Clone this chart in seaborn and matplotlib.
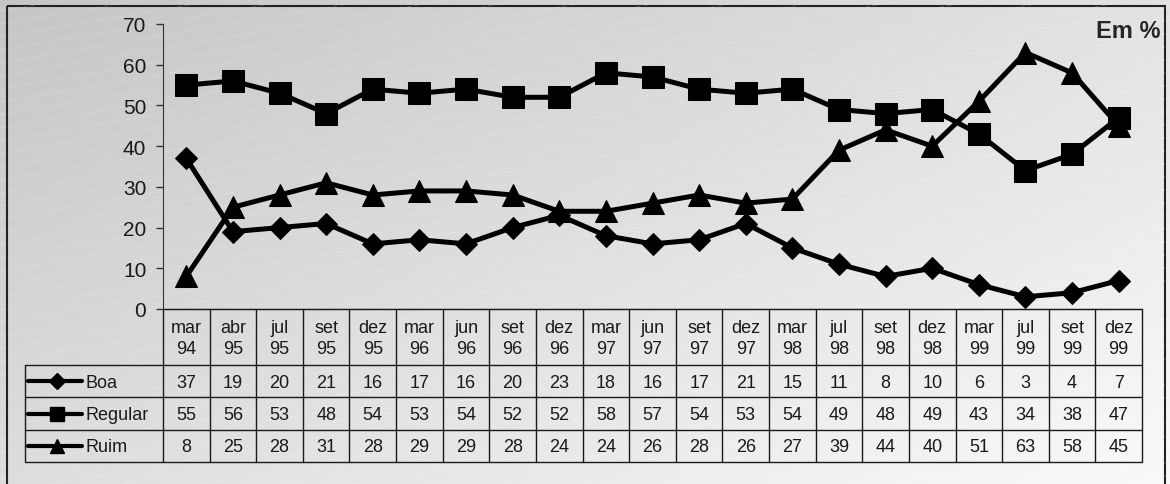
import numpy as np
import pandas as pd
import matplotlib.pyplot as plt
from matplotlib.patches import Rectangle
from matplotlib.lines import Line2D
import seaborn as sns

# dados (em %)
meses = ['mar\n94', 'abr\n95', 'jul\n95', 'set\n95', 'dez\n95', 'mar\n96', 'jun\n96',
         'set\n96', 'dez\n96', 'mar\n97', 'jun\n97', 'set\n97', 'dez\n97', 'mar\n98',
         'jul\n98', 'set\n98', 'dez\n98', 'mar\n99', 'jul\n99', 'set\n99', 'dez\n99']
boa = [37, 19, 20, 21, 16, 17, 16, 20, 23, 18, 16, 17, 21, 15, 11, 8, 10, 6, 3, 4, 7]
regular = [55, 56, 53, 48, 54, 53, 54, 52, 52, 58, 57, 54, 53, 54, 49, 48, 49, 43, 34, 38, 47]
ruim = [8, 25, 28, 31, 28, 29, 29, 28, 24, 24, 26, 28, 26, 27, 39, 44, 40, 51, 63, 58, 45]
series = ['Boa', 'Regular', 'Ruim']

n = len(meses)
df = pd.DataFrame({'pos': np.arange(n), 'Boa': boa, 'Regular': regular, 'Ruim': ruim})

sns.set_style('white')
plt.rcParams['font.family'] = ['Liberation Sans', 'DejaVu Sans']

W, H = 1170, 485
fig = plt.figure(figsize=(W / 100, H / 100), dpi=100)


def px(x0, y0, x1, y1):
    # caixa em pixels -> fracao da figura
    return [x0 / W, 1 - y1 / H, (x1 - x0) / W, (y1 - y0) / H]


# fundo degrade com listras diagonais
bg = fig.add_axes([0, 0, 1, 1], zorder=0)
xx, yy = np.meshgrid(np.linspace(0, 1, 300), np.linspace(0, 1, 150))
g = 0.775 + 0.205 * (0.55 * xx + 0.45 * yy)
bg.imshow(np.dstack([g, g, g]), extent=[0, W, H, 0], aspect='auto')
for y0 in range(-40, 700, 13):
    bg.plot([0, W], [y0, y0 - 0.17 * W], color='white', lw=0.6, alpha=0.25,
            ls=(0, (6, 3)))
bg.add_patch(Rectangle((7, 7), 1158, 500, fill=False, edgecolor='#222222', lw=1.5))
bg.set_xlim(0, W)
bg.set_ylim(H, 0)
bg.set_axis_off()

# grafico principal
ax = fig.add_axes(px(163, 25, 1142, 310), zorder=2)
ax.set_facecolor('none')
estilos = {'Boa': ('D', 11), 'Regular': ('s', 16.5), 'Ruim': ('^', 16)}
for s in series:
    m, ms = estilos[s]
    sns.lineplot(data=df, x='pos', y=s, ax=ax, color='black', lw=3.6,
                 marker=m, markersize=ms, markeredgecolor='black', clip_on=False)
ax.set_xlim(-0.5, n - 0.5)
ax.set_ylim(0, 70)
ax.set_yticks(range(0, 71, 10))
ax.set_xticks([])
ax.set_xlabel('')
ax.set_ylabel('')
ax.tick_params(axis='y', direction='out', length=5, width=1, color='#333333',
               labelsize=15, labelcolor='#1a1a1a', pad=7, left=True)
for sp in ['top', 'right']:
    ax.spines[sp].set_visible(False)
ax.spines['left'].set_color('#333333')
ax.spines['bottom'].set_color('#222222')

fig.text(1161 / W, 1 - 38 / H, 'Em %', ha='right', va='baseline',
         fontsize=17, fontweight='bold')

# tabela de dados
tab = fig.add_axes(px(163, 310, 1142, 463), zorder=2)
tab.set_facecolor('none')
tab.set_xlim(-0.5, n - 0.5)
tab.set_ylim(153, 0)
tab.set_axis_off()

colw = 979 / n
x_left = -0.5 - 138 / colw
linhas = [0, 56, 88, 121, 153]
kw = dict(color='#1a1a1a', lw=1, clip_on=False)
tab.plot([-0.5, n - 0.5], [0, 0], **kw)
for y in linhas[1:]:
    tab.plot([x_left, n - 0.5], [y, y], **kw)
for k in range(n + 1):
    tab.plot([k - 0.5, k - 0.5], [0, 153], **kw)
tab.plot([x_left, x_left], [56, 153], **kw)

for i, lab in enumerate(meses):
    tab.text(i, 29, lab, ha='center', va='center', fontsize=13,
             linespacing=1.3, color='#1a1a1a')

valores = [boa, regular, ruim]
leg_ms = {'Boa': 8, 'Regular': 10, 'Ruim': 10}
for r, s in enumerate(series):
    yc = (linhas[r + 1] + linhas[r + 2]) / 2
    for i, v in enumerate(valores[r]):
        tab.text(i, yc + 1, str(v), ha='center', va='center', fontsize=13,
                 color='#1a1a1a')
    x0 = -0.5 + (28 - 163) / colw
    x1 = -0.5 + (82 - 163) / colw
    xm = -0.5 + (57 - 163) / colw
    tab.add_line(Line2D([x0, x1], [yc, yc], color='black', lw=3, clip_on=False))
    tab.add_line(Line2D([xm], [yc], marker=estilos[s][0], markersize=leg_ms[s],
                        color='black', lw=0, clip_on=False))
    tab.text(-0.5 + (86 - 163) / colw, yc + 1, s, ha='left', va='center',
             fontsize=13, color='#1a1a1a')

fig.savefig('out.png', dpi=100)
